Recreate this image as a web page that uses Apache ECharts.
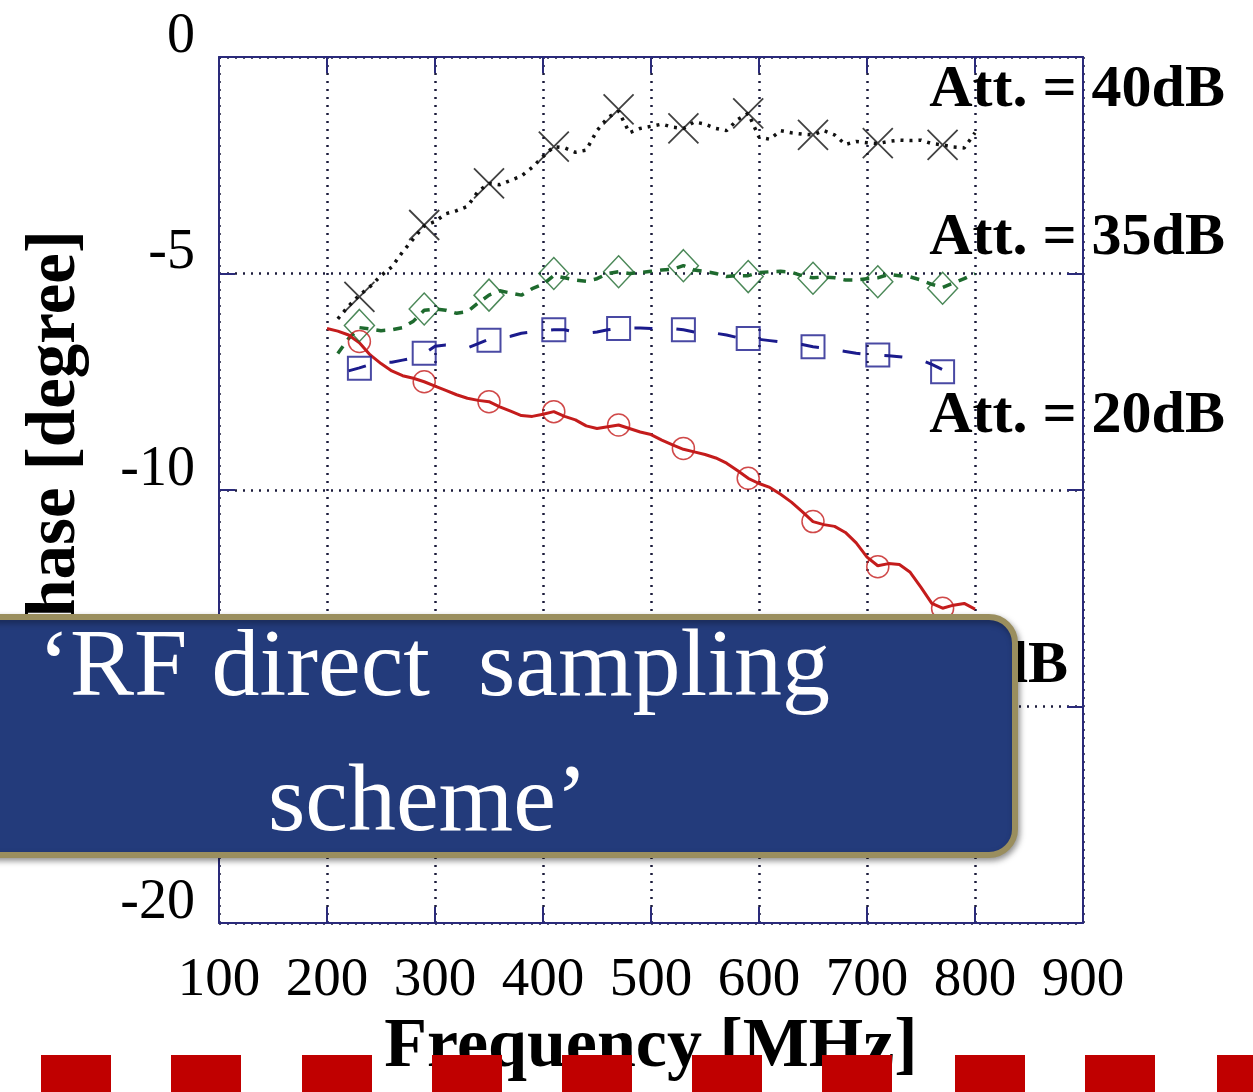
<!DOCTYPE html>
<html>
<head>
<meta charset="utf-8">
<script src="https://cdn.jsdelivr.net/npm/echarts@6/dist/echarts.min.js"></script>
<style>
html,body{margin:0;padding:0;background:#ffffff;}
#chart{width:1253px;height:1092px;}
</style>
</head>
<body>
<div id="chart"></div>
<script>
// ---- Data ----
const xTicks = [100, 200, 300, 400, 500, 600, 700, 800, 900];
const yTicks = [0, -5, -10, -15, -20];

// Att. = 40dB (black, dotted, x markers)
const freq40 = [210,220,230,240,250,260,270,280,290,300,310,320,330,340,350,360,370,380,390,400,410,420,430,440,450,460,470,480,490,500,510,520,530,540,550,560,570,580,590,600,610,620,630,640,650,660,670,680,690,700,710,720,730,740,750,760,770,780,790,800];
const phase40 = [-6.05,-5.75,-5.50,-5.30,-5.05,-4.85,-4.50,-4.20,-3.90,-3.80,-3.62,-3.55,-3.45,-3.10,-2.92,-2.95,-2.85,-2.75,-2.55,-2.30,-2.07,-2.10,-2.20,-2.15,-1.70,-1.40,-1.25,-1.75,-1.65,-1.60,-1.55,-1.62,-1.65,-1.50,-1.55,-1.65,-1.70,-1.45,-1.30,-1.85,-1.90,-1.70,-1.75,-1.78,-1.80,-1.70,-1.80,-2.02,-1.95,-1.98,-2.00,-1.95,-1.92,-1.93,-1.92,-2.00,-2.03,-2.08,-2.10,-1.75];

// Att. = 35dB (green, dashed, diamond markers)
const freq35 = [210,220,230,240,250,260,270,280,290,300,310,320,330,340,350,360,370,380,390,400,410,420,430,440,450,460,470,480,490,500,510,520,530,540,550,560,570,580,590,600,610,620,630,640,650,660,670,680,690,700,710,720,730,740,750,760,770,780,790,800];
const phase35 = [-6.85,-6.50,-6.25,-6.28,-6.32,-6.30,-6.25,-6.10,-5.85,-5.82,-5.85,-5.92,-5.88,-5.68,-5.50,-5.40,-5.45,-5.50,-5.35,-5.25,-5.05,-5.10,-5.15,-5.18,-5.12,-5.00,-4.96,-5.00,-4.98,-4.95,-4.92,-4.90,-4.82,-4.92,-4.95,-5.00,-5.07,-5.05,-5.05,-4.98,-4.96,-4.95,-4.97,-5.05,-5.10,-5.08,-5.10,-5.15,-5.15,-5.12,-5.10,-5.02,-5.05,-5.08,-5.15,-5.25,-5.32,-5.22,-5.12,-5.00];

// Att. = 20dB (blue, long dashes, square markers)
const freq20 = [220,230,240,250,260,270,280,290,300,310,320,330,340,350,360,370,380,390,400,410,420,430,440,450,460,470,480,490,500,510,520,530,540,550,560,570,580,590,600,610,620,630,640,650,660,670,680,690,700,710,720,730,740,750,760,770,780,790];
const phase20 = [-7.25,-7.18,-7.10,-7.05,-7.05,-7.00,-6.95,-6.85,-6.68,-6.65,-6.68,-6.72,-6.62,-6.52,-6.48,-6.45,-6.38,-6.35,-6.32,-6.30,-6.30,-6.35,-6.38,-6.35,-6.30,-6.27,-6.26,-6.26,-6.27,-6.28,-6.27,-6.30,-6.35,-6.38,-6.38,-6.42,-6.48,-6.50,-6.52,-6.55,-6.58,-6.62,-6.64,-6.69,-6.72,-6.76,-6.80,-6.84,-6.87,-6.88,-6.90,-6.92,-6.95,-7.00,-7.10,-7.22,-7.20,-7.16];

// Att. = 0dB (red, solid, circle markers)
const freq0 = [200,210,220,230,240,250,260,270,280,290,300,310,320,330,340,350,360,370,380,390,400,410,420,430,440,450,460,470,480,490,500,510,520,530,540,550,560,570,580,590,600,610,620,630,640,650,660,670,680,690,700,710,720,730,740,750,760,770,780,790,800];
const phase0 = [-6.27,-6.33,-6.42,-6.60,-6.88,-7.08,-7.25,-7.36,-7.42,-7.50,-7.60,-7.70,-7.80,-7.88,-7.93,-7.96,-8.08,-8.18,-8.28,-8.30,-8.25,-8.19,-8.30,-8.38,-8.52,-8.58,-8.54,-8.50,-8.58,-8.66,-8.72,-8.85,-8.96,-9.06,-9.12,-9.18,-9.26,-9.38,-9.55,-9.73,-9.85,-9.94,-10.10,-10.28,-10.50,-10.73,-10.80,-10.84,-10.98,-11.22,-11.55,-11.75,-11.70,-11.72,-11.90,-12.25,-12.62,-12.73,-12.66,-12.62,-12.75];

// Marker positions
const markerFreq = [230, 290, 350, 410, 470, 530, 590, 650, 710, 770];
const marker40 = [-5.54, -3.88, -2.92, -2.07, -1.21, -1.65, -1.30, -1.80, -1.99, -2.03];
const marker35 = [-6.20, -5.82, -5.50, -5.00, -4.96, -4.82, -5.07, -5.11, -5.19, -5.34];
const marker20 = [-7.19, -6.84, -6.54, -6.30, -6.27, -6.30, -6.50, -6.69, -6.88, -7.27];
const marker0 = [-6.57, -7.50, -7.96, -8.19, -8.50, -9.04, -9.73, -10.73, -11.77, -12.73];

const attLabels = ['Att. = 40dB', 'Att. = 35dB', 'Att. = 20dB', 'Att. = 0dB'];
const bannerLines = ['\u2018RF direct  sampling', 'scheme\u2019'];
const xName = 'Frequency [MHz]';
const yName = 'Phase [degree]';

// ---- helpers ----
function pairs(xs, ys) { return xs.map((x, i) => [x, ys[i]]); }

const SERIF = '"Liberation Serif", "Times New Roman", serif';
const NAVY = '#2a2a7a';
const GRID_DOT = '#1c1c3c';

const C_BLACK = '#111111';
const C_GREEN = '#1e6a2e';
const C_BLUE = '#1b1b8c';
const C_RED = '#c41c1c';

const crossPath = 'path://M0,0L10,10M10,0L0,10';

function lineSeries(name, xs, ys, color, type, w) {
  return {
    name: name, type: 'line', data: pairs(xs, ys), showSymbol: false, symbol: 'none',
    lineStyle: { color: color, width: w, type: type }, z: 3, silent: true
  };
}
function markerSeries(name, ys, color, symbol, size, bw) {
  return {
    name: name, type: 'scatter', data: pairs(markerFreq, ys), symbol: symbol, symbolSize: size,
    itemStyle: { color: 'rgba(0,0,0,0)', borderColor: color, borderWidth: bw }, z: 4, silent: true
  };
}

const yAxisBase = {
  type: 'value', min: -20, max: 0, interval: 5,
  axisLine: { show: true, onZero: false, lineStyle: { color: NAVY, width: 2 } },
  axisTick: { show: true, inside: true, length: 16, lineStyle: { color: NAVY, width: 2 } }
};
const xAxisBase = {
  type: 'value', min: 100, max: 900, interval: 100,
  axisLine: { show: true, onZero: false, lineStyle: { color: NAVY, width: 2 } },
  axisTick: { show: true, inside: true, length: 16, lineStyle: { color: NAVY, width: 2 } }
};

const redBlocks = [41, 171, 302, 432, 562, 692, 822, 955, 1085, 1217].map(x => ({
  type: 'rect', shape: { x: x, y: 1055, width: 70, height: 40 },
  style: { fill: '#c00000' }, z: 60, silent: true
}));

const attStyle = { fontFamily: SERIF, fontSize: 60, fontWeight: 'bold', fill: '#000', align: 'right', verticalAlign: 'middle' };

const option = {
  backgroundColor: '#ffffff',
  animation: false,
  grid: { left: 219, top: 57, right: 170, bottom: 169, show: false },
  xAxis: [
    Object.assign({}, xAxisBase, {
      position: 'bottom',
      name: xName, nameLocation: 'middle', nameGap: 70,
      nameTextStyle: { fontFamily: SERIF, fontSize: 70, fontWeight: 'bold', color: '#000' },
      axisLabel: { show: true, margin: 30, fontFamily: SERIF, fontSize: 55, color: '#000',
        formatter: v => (xTicks.indexOf(v) >= 0 ? String(v) : '') },
      splitLine: { show: true, lineStyle: { color: GRID_DOT, width: 2.5, type: [2, 6] } }
    }),
    Object.assign({}, xAxisBase, {
      position: 'top', axisLabel: { show: false }, splitLine: { show: false }
    })
  ],
  yAxis: [
    Object.assign({}, yAxisBase, {
      position: 'left',
      name: yName, nameLocation: 'middle', nameGap: 128, nameRotate: 90,
      nameTextStyle: { fontFamily: SERIF, fontSize: 69, fontWeight: 'bold', color: '#000', padding: [0, 0, 0, 90] },
      axisLabel: { show: true, margin: 24, fontFamily: SERIF, fontSize: 56, color: '#000',
        verticalAlign: 'bottom', lineHeight: 40,
        formatter: v => (yTicks.indexOf(v) >= 0 ? String(v) : '') },
      splitLine: { show: true, lineStyle: { color: GRID_DOT, width: 2.5, type: [2, 6] } }
    }),
    Object.assign({}, yAxisBase, {
      position: 'right', axisLabel: { show: false }, splitLine: { show: false }
    })
  ],
  series: [
    lineSeries('40dB', freq40, phase40, C_BLACK, [3, 6], 3.5),
    markerSeries('40dB marks', marker40, C_BLACK, crossPath, 30, 1.8),
    lineSeries('35dB', freq35, phase35, C_GREEN, [9, 8], 3.5),
    markerSeries('35dB marks', marker35, C_GREEN, 'diamond', [30, 32], 1.5),
    lineSeries('20dB', freq20, phase20, C_BLUE, [18, 24], 3),
    markerSeries('20dB marks', marker20, C_BLUE, 'rect', 23, 2),
    lineSeries('0dB', freq0, phase0, C_RED, 'solid', 3),
    markerSeries('0dB marks', marker0, C_RED, 'circle', 22, 1.5)
  ],
  graphic: {
    elements: [
      { type: 'text', x: 1225, y: 90, z: 20, silent: true, style: Object.assign({ text: attLabels[0] }, attStyle) },
      { type: 'text', x: 1225, y: 238, z: 20, silent: true, style: Object.assign({ text: attLabels[1] }, attStyle) },
      { type: 'text', x: 1225, y: 416, z: 20, silent: true, style: Object.assign({ text: attLabels[2] }, attStyle) },
      { type: 'text', x: 1068, y: 666, z: 20, silent: true, style: Object.assign({ text: attLabels[3] }, attStyle) },
      // banner box
      { type: 'rect', z: 50, silent: true,
        shape: { x: -40, y: 617, width: 1055, height: 238, r: 26 },
        style: { fill: '#233b7b', stroke: '#9a8e5e', lineWidth: 6,
          shadowBlur: 6, shadowColor: 'rgba(0,0,0,0.35)', shadowOffsetX: 2, shadowOffsetY: 3 } },
      { type: 'text', x: 38, y: 670, z: 51, silent: true,
        style: { text: bannerLines[0], fontFamily: SERIF, fontSize: 96, fill: '#ffffff', align: 'left', verticalAlign: 'middle' } },
      { type: 'text', x: 268, y: 805, z: 51, silent: true,
        style: { text: bannerLines[1], fontFamily: SERIF, fontSize: 96, fill: '#ffffff', align: 'left', verticalAlign: 'middle' } }
    ].concat(redBlocks)
  }
};

const chart = echarts.init(document.getElementById('chart'), null, { renderer: 'canvas' });
chart.setOption(option);
</script>
</body>
</html>
